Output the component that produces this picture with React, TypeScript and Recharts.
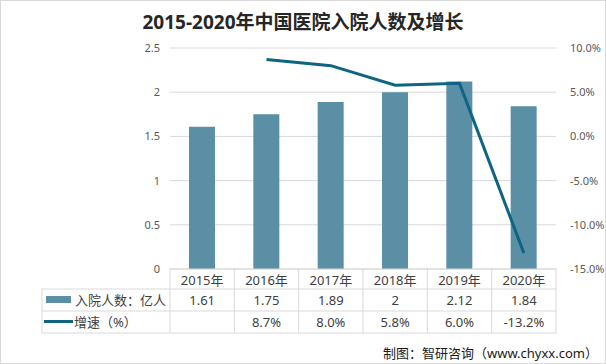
import { ComposedChart, Bar, Line, XAxis, YAxis, CartesianGrid, Customized } from 'recharts'

const years = ['2015年', '2016年', '2017年', '2018年', '2019年', '2020年']
const admissions = [1.61, 1.75, 1.89, 2, 2.12, 1.84]
const growth: (number | null)[] = [null, 8.7, 8.0, 5.8, 6.0, -13.2]
const leftTicks = [0, 0.5, 1, 1.5, 2, 2.5]
const rightTicks = [-15, -10, -5, 0, 5, 10]

const barName = '入院人数：亿人'
const lineName = '增速（%）'
const title = '2015-2020年中国医院入院人数及增长'
const source = '制图：智研咨询（www.chyxx.com）'

const data = years.map((year, i) => ({ year, admissions: admissions[i], growth: growth[i] }))

const W = 606
const H = 364
const PLOT_LEFT = 170
const PLOT_RIGHT = 556
const BAND = (PLOT_RIGHT - PLOT_LEFT) / years.length
const ROW_TOP = 268
const ROW1 = 289
const ROW2 = 311
const ROW_END = 333
const TABLE_LEFT = 42

const BAR_COLOR = '#5b8fa6'
const LINE_COLOR = '#0f6483'
const GRID = '#d9d9d9'
const TEXT = '#404040'
const FONT = "'Noto Sans', 'Noto Sans CJK SC', sans-serif"

const fmtPct = (v: number) => `${v.toFixed(1)}%`

function TableTick(props: any) {
  const { x, payload } = props
  const i = payload.index
  const left = x - BAND / 2
  const g = growth[i]
  return (
    <g>
      <line x1={left} x2={left} y1={ROW_TOP} y2={ROW_END} stroke={GRID} />
      {i === years.length - 1 && (
        <line x1={left + BAND} x2={left + BAND} y1={ROW_TOP} y2={ROW_END} stroke={GRID} />
      )}
      <text x={x} y={(ROW_TOP + ROW1) / 2 + 1} textAnchor="middle" dominantBaseline="central" fontSize={13} fill={TEXT}>
        {years[i]}
      </text>
      <text x={x} y={(ROW1 + ROW2) / 2} textAnchor="middle" dominantBaseline="central" fontSize={13} fill={TEXT}>
        {admissions[i]}
      </text>
      <text x={x} y={(ROW2 + ROW_END) / 2} textAnchor="middle" dominantBaseline="central" fontSize={13} fill={TEXT}>
        {g == null ? '' : fmtPct(g)}
      </text>
    </g>
  )
}

function Decor() {
  return (
    <g>
      <rect x={0.5} y={0.5} width={W - 1} height={H - 1} fill="none" stroke={GRID} />
      <text x={W / 2} y={22} textAnchor="middle" dominantBaseline="central" fontSize={19} fontWeight="bold" fill="#262626">
        {title}
      </text>
      {[ROW1, ROW2, ROW_END].map((y) => (
        <line key={y} x1={TABLE_LEFT} x2={PLOT_RIGHT} y1={y} y2={y} stroke={GRID} />
      ))}
      <line x1={TABLE_LEFT} x2={TABLE_LEFT} y1={ROW1} y2={ROW_END} stroke={GRID} />
      <rect x={46} y={296} width={25} height={7} fill={BAR_COLOR} />
      <text x={75} y={(ROW1 + ROW2) / 2} dominantBaseline="central" fontSize={13} fill={TEXT}>
        {barName}
      </text>
      <line x1={44} x2={73} y1={321.5} y2={321.5} stroke={LINE_COLOR} strokeWidth={3} />
      <text x={74} y={(ROW2 + ROW_END) / 2} dominantBaseline="central" fontSize={13} fill={TEXT}>
        {lineName}
      </text>
      <text x={598} y={353} textAnchor="end" dominantBaseline="central" fontSize={13} fill="#1a1a1a">
        {source}
      </text>
    </g>
  )
}

export default function App() {
  return (
    <div style={{ position: 'absolute', left: 0, top: 0, width: W, height: H, background: '#fff', fontFamily: FONT }}>
      <ComposedChart width={W} height={H} data={data} margin={{ top: 48, right: 0, bottom: 30, left: 0 }}>
        <CartesianGrid vertical={false} stroke={GRID} yAxisId="left" />
        <XAxis
          dataKey="year"
          height={65}
          axisLine={{ stroke: GRID }}
          tickLine={false}
          tick={<TableTick />}
          interval={0}
        />
        <YAxis
          yAxisId="left"
          width={170}
          domain={[0, 2.5]}
          ticks={leftTicks}
          axisLine={false}
          tickLine={false}
          tickSize={8}
          tickMargin={2}
          tick={{ fontSize: 11, fill: '#595959' }}
        />
        <YAxis
          yAxisId="right"
          orientation="right"
          width={50}
          domain={[-15, 10]}
          ticks={rightTicks}
          axisLine={false}
          tickLine={false}
          tickSize={12}
          tickMargin={2}
          tickFormatter={fmtPct}
          tick={{ fontSize: 11, fill: '#595959' }}
        />
        <Bar yAxisId="left" dataKey="admissions" fill={BAR_COLOR} barSize={26} isAnimationActive={false} />
        <Line
          yAxisId="right"
          dataKey="growth"
          stroke={LINE_COLOR}
          strokeWidth={3}
          dot={false}
          isAnimationActive={false}
        />
        <Customized component={<Decor />} />
      </ComposedChart>
    </div>
  )
}
